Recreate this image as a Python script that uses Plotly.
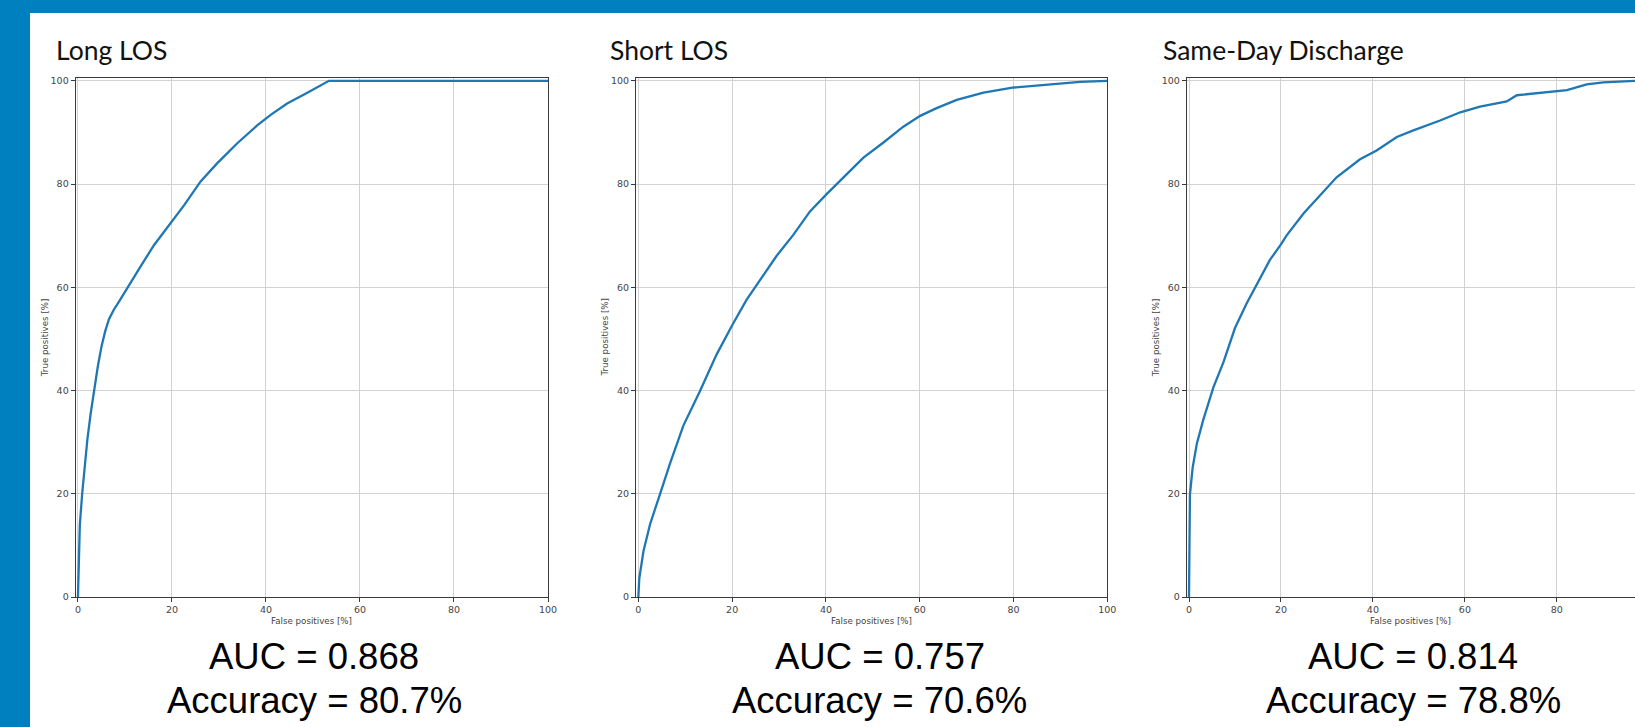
import plotly.graph_objects as go

# ---- data ----
panel_titles = ["Long LOS", "Short LOS", "Same-Day Discharge"]
auc_values = ["0.868", "0.757", "0.814"]
accuracy_values = ["80.7%", "70.6%", "78.8%"]

fpr_long = [0, 0.2, 0.4, 0.9, 1.4, 2.0, 2.7, 3.4, 4.2, 5.0, 5.8, 6.6, 7.6, 8.8, 10.3, 13.3,
            16.2, 20.1, 22.6, 26.1, 29.6, 33.9, 38.2, 41.0, 44.5, 48.8, 53.4, 60, 80, 100]
tpr_long = [0, 8, 14, 20, 25.5, 30.5, 35.5, 40, 44.5, 48.5, 51.5, 53.8, 55.6, 57.3, 59.6, 64.0,
            68.2, 73.0, 75.9, 80.5, 84.0, 87.9, 91.4, 93.4, 95.6, 97.7, 100, 100, 100, 100]

fpr_short = [0, 0.2, 1.1, 2.5, 4.6, 6.8, 9.6, 13.1, 16.7, 20.1, 23.1, 25.6, 29.5, 33.0,
             36.6, 40.2, 43.7, 48.0, 52.2, 56.5, 60.1, 63.6, 67.9, 73.6, 80.1, 87.1, 94.2, 100]
tpr_short = [0, 3.6, 8.9, 14.1, 19.9, 26.0, 33.2, 39.8, 47.0, 52.8, 57.6, 60.9, 66.1, 70.1,
             74.7, 78.1, 81.3, 85.1, 88.0, 91.1, 93.2, 94.7, 96.3, 97.7, 98.7, 99.3, 99.8, 100]

fpr_same = [0, 0.1, 0.2, 0.8, 1.7, 3.1, 5.3, 7.5, 10.0, 12.5, 14.7, 17.6, 20.0, 21.2, 24.9,
            29.2, 32.1, 37.2, 40.8, 45.2, 48.8, 54.6, 59.0, 63.3, 69.1, 71.3, 76.4, 82.2,
            86.5, 90.1, 97.0, 100]
tpr_same = [0, 10, 19.8, 25.1, 29.7, 34.3, 40.6, 45.5, 52.1, 56.8, 60.4, 65.3, 68.3, 70.0,
            74.3, 78.5, 81.3, 84.8, 86.5, 89.1, 90.4, 92.3, 93.9, 95.0, 96.0, 97.2, 97.7,
            98.2, 99.3, 99.7, 100, 100]

x_ticks = [0, 20, 40, 60, 80, 100]
y_ticks = [0, 20, 40, 60, 80, 100]

curves = [(fpr_long, tpr_long), (fpr_short, tpr_short), (fpr_same, tpr_same)]

# ---- layout geometry (pixels) ----
W, H = 1635, 727
BLUE = "#0080be"
x_px = [(75.6, 548.0), (636.0, 1107.3), (1186.7, 1635.0)]
x_ranges = [[-0.5, 100], [-0.5, 100], [-0.5, 97.0]]
y_top_px, y_bot_px = 78.2, 597.0
title_x_px = [54, 608, 1160.5]
text_center_px = [314, 880, 1413]


def px(x):
    return x / W


def py(y):
    return 1 - y / H


fig = go.Figure()

for i, (fx, ty) in enumerate(curves):
    n = "" if i == 0 else str(i + 1)
    fig.add_trace(go.Scatter(x=fx, y=ty, mode="lines",
                             line=dict(color="#1f77b4", width=2.3),
                             xaxis="x" + n, yaxis="y" + n, showlegend=False,
                             hoverinfo="skip"))
    axis_common = dict(showgrid=True, gridcolor="#d2d2d2", gridwidth=1,
                       showline=True, linecolor="#3a3a3a", linewidth=1,
                       ticks="outside", ticklen=4, tickcolor="#3a3a3a",
                       tickfont=dict(family="DejaVu Sans", size=9.5, color="#444444"),
                       zeroline=False, fixedrange=True, automargin=False)
    fig.update_layout(**{
        "xaxis" + n: dict(domain=[px(x_px[i][0]), px(x_px[i][1])], range=x_ranges[i],
                          tickvals=x_ticks, anchor="y" + n, mirror=True, **axis_common),
        "yaxis" + n: dict(domain=[py(y_bot_px), py(y_top_px)], range=[0, 100.5],
                          tickvals=y_ticks, anchor="x" + n, mirror=(i < 2), **axis_common),
    })
    # panel title
    fig.add_annotation(x=px(title_x_px[i]), y=py(49.5), xref="paper", yref="paper",
                       text=panel_titles[i], showarrow=False, xanchor="left",
                       yanchor="middle",
                       font=dict(family="Lato", size=26.5, color="#111111"))
    # axis titles
    xc = (x_px[i][0] + min(x_px[i][1], x_px[i][0] + 472)) / 2
    fig.add_annotation(x=px(xc), y=py(621), xref="paper", yref="paper",
                       text="False positives [%]", showarrow=False,
                       xanchor="center", yanchor="middle",
                       font=dict(family="DejaVu Sans", size=8.7, color="#444444"))
    fig.add_annotation(x=px(x_px[i][0] - 31), y=py((y_top_px + y_bot_px) / 2),
                       xref="paper", yref="paper", text="True positives [%]",
                       showarrow=False, textangle=-90, xanchor="center", yanchor="middle",
                       font=dict(family="DejaVu Sans", size=8.7, color="#444444"))
    # AUC / accuracy text
    fig.add_annotation(x=px(text_center_px[i]), y=py(656), xref="paper", yref="paper",
                       text="AUC = " + auc_values[i], showarrow=False,
                       xanchor="center", yanchor="middle",
                       font=dict(family="Liberation Sans", size=36.5, color="#000000"))
    fig.add_annotation(x=px(text_center_px[i]), y=py(700), xref="paper", yref="paper",
                       text="Accuracy = " + accuracy_values[i], showarrow=False,
                       xanchor="center", yanchor="middle",
                       font=dict(family="Liberation Sans", size=36.5, color="#000000"))

# white slide area over the blue frame
fig.add_shape(type="rect", xref="paper", yref="paper",
              x0=px(30), x1=1, y0=0, y1=py(13),
              fillcolor="white", line=dict(width=0), layer="below")

fig.update_layout(width=W, height=H,
                  margin=dict(l=0, r=0, t=0, b=0, pad=0, autoexpand=False),
                  paper_bgcolor=BLUE, plot_bgcolor="white", showlegend=False)

fig.write_html("out.html", config={"displayModeBar": False},
               post_script="document.body.style.margin='0';"
                           "document.body.style.overflow='hidden';")
